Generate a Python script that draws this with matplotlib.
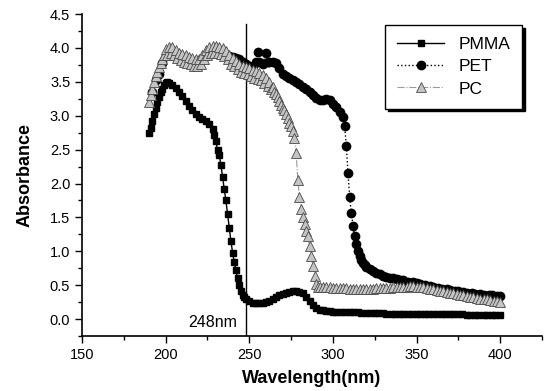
import matplotlib
matplotlib.use('Agg')
import matplotlib.pyplot as plt
from matplotlib.ticker import MultipleLocator, FormatStrFormatter

plt.rcParams['font.family'] = ['Liberation Sans', 'DejaVu Sans']

# PMMA absorbance (wavelength in nm)
pmma_wl = [190, 191, 192, 193, 194, 195, 196, 197, 198, 199, 200, 201, 202,
           204, 206, 208, 210, 212, 214, 216, 218, 220, 222, 224, 226, 228,
           229, 230, 231, 232, 233, 234, 235, 236, 237, 238, 239, 240, 241,
           242, 243, 244, 245, 246, 247, 248, 250, 252, 254, 256, 258, 260,
           262, 264, 266, 268, 270, 272, 274, 276, 278, 280, 282, 284, 286,
           288, 290, 292, 294, 296, 298, 300, 302, 305, 307, 310, 312, 315,
           317, 320, 322, 325, 327, 330, 332, 335, 337, 340, 342, 345, 347,
           350, 352, 355, 357, 360, 362, 365, 367, 370, 372, 375, 377, 380,
           382, 385, 387, 390, 392, 395, 397, 400]
pmma_abs = [2.74, 2.82, 2.92, 3.02, 3.12, 3.21, 3.28, 3.35, 3.40, 3.45, 3.48, 3.50, 3.49,
            3.46, 3.41, 3.35, 3.29, 3.22, 3.15, 3.08, 3.02, 2.98, 2.95, 2.92, 2.88, 2.80,
            2.72, 2.62, 2.50, 2.42, 2.28, 2.10, 1.92, 1.75, 1.55, 1.35, 1.15, 0.98, 0.84,
            0.72, 0.60, 0.50, 0.42, 0.36, 0.32, 0.29, 0.26, 0.24, 0.23, 0.23, 0.24, 0.25,
            0.27, 0.29, 0.32, 0.35, 0.37, 0.39, 0.40, 0.41, 0.41, 0.40, 0.38, 0.33, 0.26,
            0.20, 0.16, 0.14, 0.13, 0.12, 0.12, 0.11, 0.11, 0.11, 0.10, 0.10, 0.10, 0.10,
            0.09, 0.09, 0.09, 0.09, 0.09, 0.09, 0.08, 0.08, 0.08, 0.08, 0.08, 0.08, 0.08,
            0.08, 0.08, 0.07, 0.07, 0.07, 0.07, 0.07, 0.07, 0.07, 0.07, 0.07, 0.07, 0.06,
            0.06, 0.06, 0.06, 0.06, 0.06, 0.06, 0.06, 0.06]

# PET absorbance
pet_wl = [192, 194, 196, 198, 200, 202, 204, 206, 208, 210, 212, 214, 216,
          218, 220, 222, 224, 226, 228, 230, 232, 234, 236, 238, 240, 242,
          244, 246, 248, 250, 252, 254, 255, 256, 258, 260, 261, 262, 264,
          266, 268, 270, 272, 274, 276, 278, 280, 282, 284, 286, 288, 290,
          292, 294, 296, 298, 300, 302, 304, 306, 307, 308, 309, 310, 311,
          312, 313, 314, 315, 316, 317, 318, 319, 320, 322, 324, 326, 328,
          330, 332, 334, 336, 338, 340, 342, 345, 348, 350, 352, 355, 358,
          360, 363, 365, 368, 370, 373, 375, 378, 380, 383, 385, 388, 390,
          393, 395, 398, 400]
pet_abs = [3.35, 3.52, 3.62, 3.78, 3.88, 3.92, 3.92, 3.88, 3.84, 3.82, 3.80, 3.78, 3.77,
           3.76, 3.77, 3.82, 3.88, 3.92, 3.93, 3.93, 3.92, 3.92, 3.90, 3.88, 3.86, 3.85,
           3.83, 3.80, 3.76, 3.73, 3.74, 3.80, 3.94, 3.80, 3.77, 3.92, 3.80, 3.80, 3.80,
           3.78, 3.70, 3.62, 3.58, 3.55, 3.52, 3.50, 3.47, 3.43, 3.40, 3.35, 3.30, 3.26,
           3.23, 3.23, 3.24, 3.23, 3.18, 3.13, 3.06, 2.98, 2.85, 2.55, 2.15, 1.80, 1.56,
           1.38, 1.22, 1.10, 1.00, 0.93, 0.87, 0.83, 0.80, 0.77, 0.74, 0.71, 0.68, 0.66,
           0.64, 0.62, 0.61, 0.60, 0.59, 0.58, 0.57, 0.55, 0.54, 0.53, 0.52, 0.50, 0.49,
           0.48, 0.46, 0.45, 0.44, 0.43, 0.42, 0.41, 0.40, 0.39, 0.38, 0.37, 0.37, 0.36,
           0.35, 0.35, 0.34, 0.34]

# PC absorbance (noisy band between 200 and 265 nm)
pc_wl = [190, 191, 192, 193, 194, 195, 196, 197, 198, 199,
         200, 201, 202, 203, 204, 205, 206, 207, 208, 209,
         210, 211, 212, 213, 214, 215, 216, 217, 218, 219,
         220, 221, 222, 223, 224, 225, 226, 227, 228, 229,
         230, 231, 232, 233, 234, 235, 236, 237, 238, 239,
         240, 241, 242, 243, 244, 245, 246, 247, 248, 249,
         250, 251, 252, 253, 254, 255, 256, 257, 258, 259,
         260, 261, 262, 263, 264, 265, 266, 267, 268, 269,
         270, 271, 272, 273, 274, 275, 276, 277, 278, 279,
         280, 281, 282, 283, 284, 285, 286, 287, 288, 289,
         290, 291, 292, 294, 296, 298, 300, 302, 304, 306, 308,
         310, 312, 314, 316, 318, 320, 322, 324, 326, 328, 330, 332, 334,
         336, 338, 340, 342, 344, 346, 348, 350, 352, 354, 356, 358, 360,
         362, 364, 366, 368, 370, 372, 374, 376, 378, 380, 382, 384, 386,
         388, 390, 392, 394, 396, 398, 400]
pc_abs = [3.20, 3.30, 3.40, 3.50, 3.58, 3.65, 3.72, 3.78, 3.84, 3.89,
          3.98, 3.90, 4.02, 3.92, 4.01, 3.89, 3.97, 3.85, 3.93, 3.82,
          3.91, 3.80, 3.89, 3.78, 3.87, 3.76, 3.85, 3.74, 3.83, 3.73,
          3.84, 3.77, 3.90, 3.83, 3.97, 3.90, 4.02, 3.93, 4.03, 3.93,
          4.03, 3.92, 4.02, 3.91, 4.00, 3.88, 3.95, 3.83, 3.90, 3.77,
          3.85, 3.73, 3.81, 3.69, 3.77, 3.65, 3.74, 3.63, 3.72, 3.61,
          3.70, 3.58, 3.68, 3.56, 3.66, 3.54, 3.63, 3.52, 3.60, 3.48,
          3.56, 3.44, 3.50, 3.40, 3.42, 3.35, 3.32, 3.28, 3.22, 3.16,
          3.12, 3.08, 3.02, 2.96, 2.90, 2.85, 2.78, 2.67, 2.45, 2.05,
          1.80, 1.63, 1.51, 1.40, 1.30, 1.22, 1.08, 0.93, 0.78, 0.64,
          0.52, 0.48, 0.47, 0.47, 0.47, 0.47, 0.46, 0.46, 0.46, 0.46, 0.46,
          0.45, 0.45, 0.45, 0.45, 0.45, 0.45, 0.45, 0.45, 0.46, 0.46, 0.46, 0.46, 0.46,
          0.47, 0.47, 0.47, 0.48, 0.48, 0.49, 0.49, 0.48, 0.48, 0.47, 0.46, 0.45, 0.44,
          0.43, 0.42, 0.41, 0.40, 0.39, 0.38, 0.37, 0.36, 0.35, 0.34, 0.33, 0.32, 0.31,
          0.30, 0.29, 0.29, 0.28, 0.27, 0.26, 0.25]

fig = plt.figure(figsize=(5.52, 3.91), dpi=100)
ax = fig.add_axes([0.1486, 0.1407, 0.8334, 0.8233])

ax.plot(pmma_wl, pmma_abs, '-', color='black', lw=1, marker='s', ms=5,
        mfc='black', mec='black', label='PMMA', zorder=3)
ax.plot(pet_wl, pet_abs, ':', color='black', lw=1, marker='o', ms=6,
        mfc='black', mec='black', label='PET', zorder=4)
ax.plot(pc_wl, pc_abs, '-.', color='#9a9a9a', lw=0.8, marker='^', ms=7,
        mfc='#c4c4c4', mec='#4a4a4a', mew=0.6, label='PC', zorder=5)

# 248 nm marker line
ax.plot([248, 248], [-0.25, 4.35], color='black', lw=1, zorder=2)
ax.text(242.7, -0.12, '248nm', fontsize=11.5, ha='right', va='baseline')

ax.set_xlim(150, 425)
ax.set_ylim(-0.25, 4.5)
ax.xaxis.set_minor_locator(MultipleLocator(25))
ax.yaxis.set_minor_locator(MultipleLocator(0.25))
ax.set_xticks([150, 200, 250, 300, 350, 400])
ax.set_yticks([0.0, 0.5, 1.0, 1.5, 2.0, 2.5, 3.0, 3.5, 4.0, 4.5])
ax.yaxis.set_major_formatter(FormatStrFormatter('%.1f'))
ax.tick_params(which='major', direction='out', length=5, width=1, labelsize=10.5)
ax.tick_params(which='minor', direction='out', length=3, width=1)

for s in ['top', 'right']:
    ax.spines[s].set_visible(False)
for s in ['left', 'bottom']:
    ax.spines[s].set_linewidth(1.2)

ax.set_xlabel('Wavelength(nm)', fontsize=13, fontweight='bold', labelpad=6)
ax.set_ylabel('Absorbance', fontsize=13, fontweight='bold', labelpad=12)

leg = ax.legend(loc='upper right', bbox_to_anchor=(0.957, 0.966), borderaxespad=0,
                fontsize=12.5, frameon=True, fancybox=False,
                shadow={'color': 'black', 'alpha': 1}, edgecolor='black',
                handlelength=2.7, borderpad=0.7, labelspacing=0.4)
leg.get_frame().set_linewidth(1)

fig.savefig('out.png', dpi=100)
